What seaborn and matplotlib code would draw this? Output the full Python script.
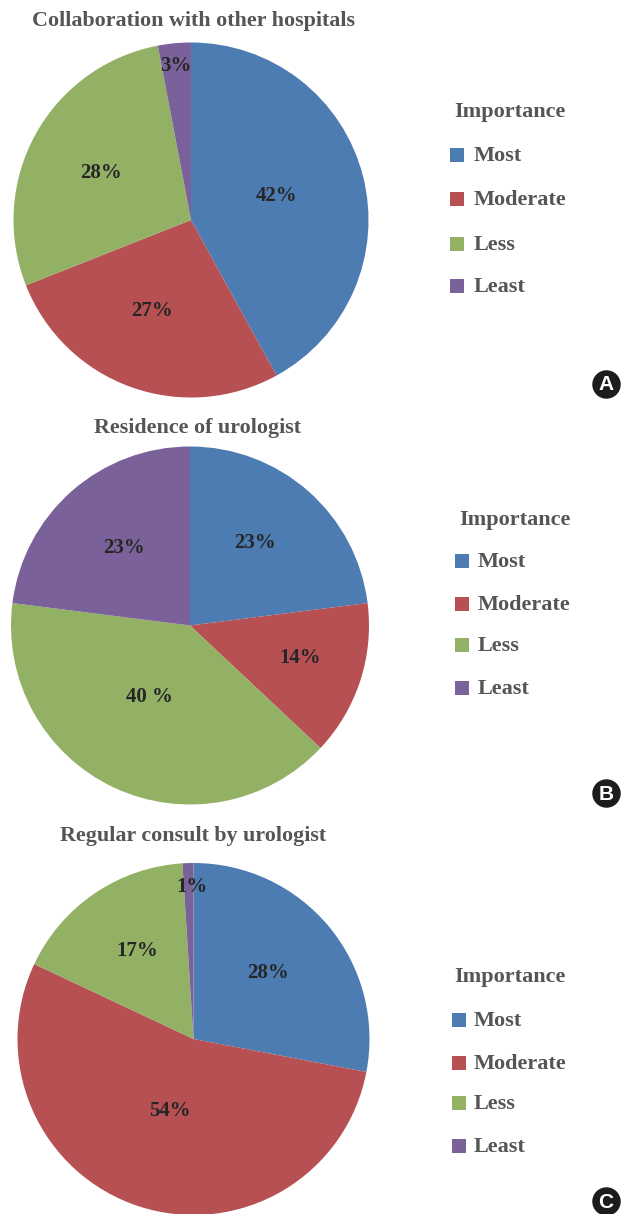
import matplotlib
matplotlib.use("Agg")
import matplotlib.pyplot as plt
import seaborn as sns

sns.set_theme(style="white")
plt.rcParams['font.family'] = ['Liberation Serif', 'DejaVu Serif']

categories = ["Most", "Moderate", "Less", "Least"]
values_a = [42, 27, 28, 3]
values_b = [23, 14, 40, 23]
values_c = [28, 54, 17, 1]
labels_a = ["42%", "27%", "28%", "3%"]
labels_b = ["23%", "14%", "40 %", "23%"]
labels_c = ["28%", "54%", "17%", "1%"]
titles = ["Collaboration with other hospitals", "Residence of urologist", "Regular consult by urologist"]
letters = ["A", "B", "C"]
colors = ["#4C7CB2", "#B65052", "#93B165", "#7A6199"]
W, H = 628, 1214

fig = plt.figure(figsize=(W / 100, H / 100), dpi=100)
bg = fig.add_axes([0, 0, 1, 1])
bg.set_xlim(0, W)
bg.set_ylim(H, 0)
bg.axis("off")
bg.set_zorder(5)

panels = [
    (values_a, labels_a, 191, 220, 177.5, 21),
    (values_b, labels_b, 190, 625.5, 179, 428),
    (values_c, labels_c, 193.5, 1039, 176, 836),
]
label_pos = [
    [(277, 196), (152, 311), (101, 173), (176, 66)],
    [(255, 543), (300, 658), (149, 697), (124, 548)],
    [(268, 973), (170, 1111), (137, 951), (192, 887)],
]
legend_pos = [
    (510, 112, [156, 200, 245, 287], 457, 474),
    (515, 520, [562, 605, 646, 689], 462, 478),
    (510, 977, [1021, 1064, 1104, 1147], 459, 474),
]
title_x = [193, 198, 193]
badge_pos = [(606, 384), (606, 793), (606, 1201)]

for i, (vals, labs, cx, cy, r, ty) in enumerate(panels):
    ax = fig.add_axes([(cx - r) / W, 1 - (cy + r) / H, 2 * r / W, 2 * r / H])
    ax.pie(vals, colors=colors, startangle=90, counterclock=False, radius=1,
           wedgeprops={"linewidth": 0})
    ax.set_xlim(-1, 1)
    ax.set_ylim(-1, 1)
    for lab, (x, y) in zip(labs, label_pos[i]):
        bg.text(x, y, lab, ha="center", va="center", fontsize=15, fontweight="bold",
                color="#262626")
    bg.text(title_x[i], ty, titles[i], ha="center", va="center", fontsize=15.8,
            fontweight="bold", color="#555555")
    lx, ly, ys, sx, tx = legend_pos[i]
    bg.text(lx, ly, "Importance", ha="center", va="center", fontsize=16,
            fontweight="bold", color="#555555")
    for c, name, y in zip(colors, categories, ys):
        bg.scatter([sx], [y - 1], s=100, marker="s", color=c, linewidths=0)
        bg.text(tx, y, name, ha="left", va="center", fontsize=16,
                fontweight="bold", color="#555555")
    bx, by = badge_pos[i]
    bg.scatter([bx], [by], s=420, color="#1c1c1c", linewidths=0, clip_on=False)
    bg.text(bx, by + 1, letters[i], ha="center", va="center", fontsize=15, fontweight="bold",
            color="white", family="Liberation Sans")

fig.savefig("out.png", dpi=100)
